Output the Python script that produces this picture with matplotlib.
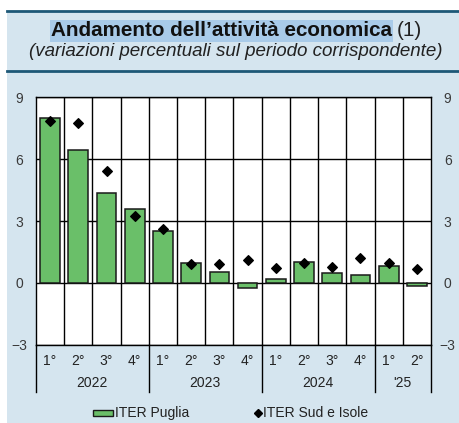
import matplotlib.pyplot as plt
import matplotlib.transforms as mtransforms
from matplotlib.patches import Rectangle
from matplotlib.lines import Line2D
import numpy as np

plt.rcParams['font.family'] = ['Liberation Sans', 'DejaVu Sans']

# Data
quarters = ["1°", "2°", "3°", "4°", "1°", "2°", "3°", "4°",
            "1°", "2°", "3°", "4°", "1°", "2°"]
years = ["2022", "2023", "2024", "'25"]
quarters_per_year = [4, 4, 4, 2]
iter_puglia = [7.97, 6.43, 4.34, 3.58, 2.53, 0.95, 0.52, -0.25,
               0.18, 1.03, 0.47, 0.39, 0.82, -0.15]
iter_sud_isole = [7.85, 7.72, 5.43, 3.26, 2.61, 0.92, 0.92, 1.11,
                  0.71, 0.98, 0.76, 1.19, 0.95, 0.66]
y_ticks = [-3, 0, 3, 6, 9]
legend_labels = ["ITER Puglia", "ITER Sud e Isole"]

W, H = 460, 423
bg = "#d5e5ef"
line_col = "#1d5877"
bar_col = "#6abf69"

fig = plt.figure(figsize=(W / 100, H / 100), dpi=100)
fig.patch.set_facecolor("white")

def fx(px):
    return px / W

def fy(py):
    return 1 - py / H

# light-blue panel with white strip on left and top
fig.patches.append(Rectangle((fx(7), 0), 1 - fx(7), fy(11),
                             transform=fig.transFigure, facecolor=bg,
                             edgecolor="none", zorder=-5))
for yy in (11, 71):
    fig.add_artist(Line2D([fx(7), 1], [fy(yy), fy(yy)],
                          color=line_col, linewidth=2, transform=fig.transFigure))

# Title
fig.text(fx(392), fy(31), "Andamento dell\u2019attività economica",
         ha="right", va="center", fontsize=14.9, fontweight="bold", color="#111111",
         bbox=dict(facecolor="#a9cbe9", edgecolor="none", pad=1.0))
fig.text(fx(397), fy(31), "(1)", ha="left", va="center",
         fontsize=14.9, color="#222222")
fig.text(fx(236), fy(52),
         "(variazioni percentuali sul periodo corrispondente)",
         ha="center", va="center", fontsize=13.5, style="italic", color="#222222")

# Axes
left, right, top, bottom = 36, 431, 97, 345
ax = fig.add_axes([fx(left), fy(bottom), (right - left) / W, (bottom - top) / H])
ax.set_facecolor("white")

n = len(quarters)
x = np.arange(n)
ax.bar(x, iter_puglia, width=0.7, color=bar_col, edgecolor="#1a1a1a",
       linewidth=1.1, zorder=3)
ax.scatter(x, iter_sud_isole, marker="D", s=24, color="black", zorder=4)

ax.set_xlim(-0.5, n - 0.5)
ax.set_ylim(-3, 9)
ax.set_yticks(y_ticks)
ax.tick_params(axis="y", length=0, labelsize=10, colors="#3a3a3a", pad=12,
               labelright=True, right=False)
for t in ax.yaxis.get_major_ticks():
    t.label1.set_horizontalalignment("center")
    t.label2.set_horizontalalignment("center")
ax.set_xticks([])

for yv in y_ticks:
    ax.axhline(yv, color="black", linewidth=1.0, zorder=1)
for xv in np.arange(0.5, n - 0.5, 1):
    ax.axvline(xv, color="black", linewidth=1.0, zorder=1)
for s in ax.spines.values():
    s.set_color("black")
    s.set_linewidth(1.0)

# x labels below the axes
trans = mtransforms.blended_transform_factory(ax.transData, fig.transFigure)
for i, q in enumerate(quarters):
    ax.text(i, fy(361), q, transform=trans, ha="center", va="center",
            fontsize=10, color="#222222")
start = 0
bounds = [-0.5]
for yr, cnt in zip(years, quarters_per_year):
    mid = start + (cnt - 1) / 2
    ax.text(mid, fy(383), yr, transform=trans, ha="center", va="center",
            fontsize=10, color="#222222")
    start += cnt
    bounds.append(start - 0.5)
for b in bounds:
    ax.add_line(Line2D([b, b], [fy(bottom), fy(392)], transform=trans,
                       color="black", linewidth=1.0, clip_on=False))

# Legend (drawn by hand to match spacing)
fig.patches.append(Rectangle((fx(93), fy(416)), fx(20), 6 / H,
                             transform=fig.transFigure, facecolor=bar_col,
                             edgecolor="#1a1a1a", linewidth=1.0))
fig.text(fx(115), fy(413), legend_labels[0], ha="left", va="center",
         fontsize=10, color="#222222")
fig.add_artist(Line2D([fx(258)], [fy(413)], marker="D", markersize=4,
                      color="black", linestyle="none", transform=fig.transFigure))
fig.text(fx(263), fy(413), legend_labels[1], ha="left", va="center",
         fontsize=10, color="#222222")

fig.savefig("out.png", dpi=100, facecolor=fig.get_facecolor())
